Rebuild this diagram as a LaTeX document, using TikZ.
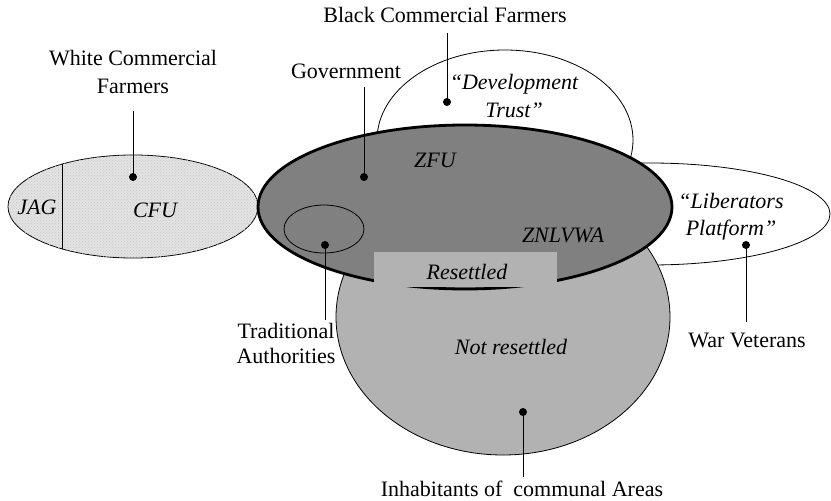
\documentclass[tikz,border=0pt]{standalone}
\usepackage{fontspec}
\setmainfont{Liberation Serif}
\usepackage{tikz}
\usetikzlibrary{patterns,positioning,shapes.geometric}
\tikzset{%
	group/.style    = {draw, ellipse, inner sep=0pt, line width=0.8pt}, % Actor set
	core/.style     = {group, line width=2.8pt, fill=black!50}, % Government
	granite/.style  = {fill=black!11, postaction={pattern=crosshatch dots, pattern color=black!22}},
	zone/.style     = {rectangle, inner sep=0pt, fill=black!30},
	outtext/.style  = {align=center, inner sep=0pt, font=\fontsize{22}{28}\selectfont},
	intext/.style   = {outtext, font=\fontsize{22}{28}\selectfont\itshape},
	dot/.style      = {circle, fill=black, inner sep=0pt, minimum size=8pt},
	waypoint/.style = {coordinate},
	link/.style     = {line width=0.8pt},
}

\begin{document}
\begin{tikzpicture}[x=1pt,y=-1pt]
		\useasboundingbox (0,0) rectangle (831,501);
		% sets, back to front
		\node [group,fill=white,minimum width=256,minimum height=180] (dev) at (505,140) {};
		\node [group,fill=white,minimum width=360,minimum height=102] (lib) at (650,214) {};
		\node [group,granite,minimum width=250,minimum height=103] (cfu) at (133,206.5) {};
		\node [group,fill=black!30,minimum width=334,minimum height=276] (inh) at (503,317) {};
		\node [core,minimum width=414,minimum height=164] (gov) at (465,207) {};
		\node [zone,minimum width=183,minimum height=35] (res) at (465.5,269.5) {};
		\node [group,minimum width=80,minimum height=48] (ta) at (324,229) {};
		
		\coordinate (jagtop) at (62,164);
		\coordinate (jagbot) at (62,249);
		\draw[link] (jagtop) -- (jagbot);
		
		% members
		\node [dot] (cfudot) at (133,177) {};
		\node [dot] (govdot) at (364,177) {};
		\node [dot] (devdot) at (447,102) {};
		\node [dot] (tadot) at (325,245) {};
		\node [dot] (libdot) at (746,245) {};
		\node [dot] (inhdot) at (523,412) {};
		\node [waypoint] (cfuend) at (133,111) {};
		\node [waypoint] (govend) at (364,87) {};
		\node [waypoint] (devend) at (447,33) {};
		\node [waypoint] (taend) at (325,320) {};
		\node [waypoint] (libend) at (746,322) {};
		\node [waypoint] (inhend) at (523,477) {};
		
		\draw[link] (cfudot.center) -- (cfuend);
		\draw[link] (govdot.center) -- (govend);
		\draw[link] (devdot.center) -- (devend);
		\draw[link] (tadot.center) -- (taend);
		\draw[link] (libdot.center) -- (libend);
		\draw[link] (inhdot.center) -- (inhend);
		
		% names inside the sets
		\node [intext] (jag) at (37,207) {JAG};
		\node [intext] (cfutxt) at (155,210) {CFU};
		\node [intext] (zfu) at (435,160) {ZFU};
		\node [intext] (znl) at (563,235) {ZNLVWA};
		\node [intext] (devtxt) at (514,96) {``Development\\Trust''};
		\node [intext] (libtxt) at (731,217) {``Liberators\\[-1pt]Platform''};
		\node [intext] (restxt) at (467,272) {Resettled};
		\node [intext] (nottxt) at (511,347) {Not resettled};
		
		% actors
		\node [outtext] (black) at (445,15) {Black Commercial Farmers};
		\node [outtext] (white) at (133,72) {White Commercial\\Farmers};
		\node [outtext] (govtxt) at (346,71) {Government};
		\node [outtext] (trad) at (286,343) {Traditional\\[-3pt]Authorities};
		\node [outtext] (war) at (747,340) {War Veterans};
		\node [outtext] (inhtxt) at (522,489) {Inhabitants of\ \ communal Areas};
		\end{tikzpicture}
\end{document}
